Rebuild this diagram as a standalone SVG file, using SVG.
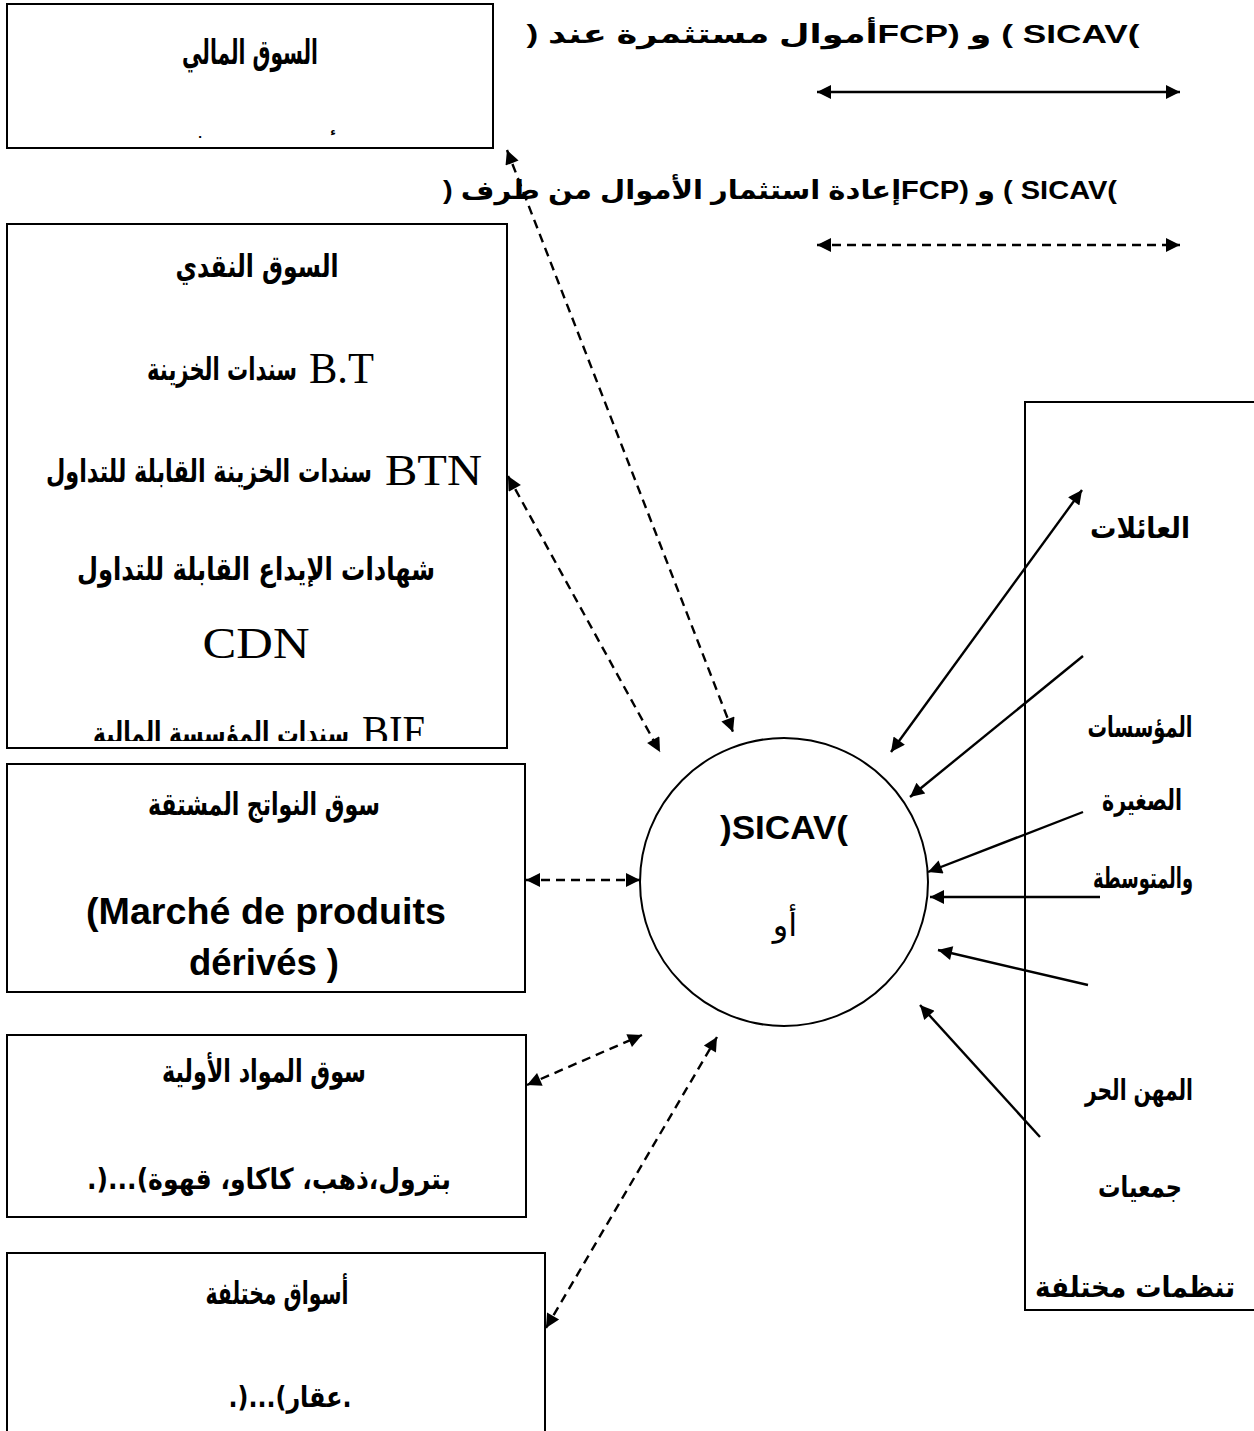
<svg xmlns="http://www.w3.org/2000/svg" width="1254" height="1431" viewBox="0 0 1254 1431">
  <style>
    .box { fill: #fff; stroke: #000; stroke-width: 2; }
    .ar { font-family: 'DejaVu Sans', sans-serif; font-weight: bold; fill: #000; }
    .arn { font-family: 'DejaVu Sans', sans-serif; font-weight: normal; fill: #000; }
    .lat { font-family: 'Liberation Sans', 'DejaVu Sans', sans-serif; font-weight: bold; fill: #000; }
    .ser { font-family: 'Liberation Serif', serif; font-weight: normal; fill: #000; }
    .solid { stroke: #000; stroke-width: 2.4; fill: none; }
    .dash { stroke: #000; stroke-width: 2.4; fill: none; stroke-dasharray: 9 6; }
  </style>
  <defs>
    <marker id="head" viewBox="0 0 10 10" refX="10" refY="5" markerWidth="17" markerHeight="14" markerUnits="userSpaceOnUse" orient="auto-start-reverse">
      <path d="M0,0 L10,5 L0,10 z" fill="#000"/>
    </marker>
    <clipPath id="clip-money">
      <rect x="7" y="680" width="500" height="61"/>
    </clipPath>
  </defs>

  <rect x="0" y="0" width="1254" height="1431" fill="#fff"/>

  <!-- legend: line styles for the two kinds of flows -->
  <g id="legend">
    <text class="lat" x="833" y="43" font-size="26" text-anchor="middle" direction="rtl" textLength="613" lengthAdjust="spacingAndGlyphs">)SICAV ) و (FCPأموال مستثمرة عند (</text>
    <line class="solid" x1="817" y1="92" x2="1180" y2="92" marker-start="url(#head)" marker-end="url(#head)"/>
    <text class="lat" x="780" y="199" font-size="26" text-anchor="middle" direction="rtl" textLength="674" lengthAdjust="spacingAndGlyphs">)SICAV ) و (FCPإعادة استثمار الأموال من طرف (</text>
    <line class="dash" x1="817" y1="245" x2="1180" y2="245" marker-start="url(#head)" marker-end="url(#head)"/>
  </g>

  <!-- financial market -->
  <g id="financial-market">
    <rect class="box" x="7" y="4" width="486" height="144"/>
    <text class="ar" x="250" y="64" font-size="34" text-anchor="middle" direction="rtl" textLength="136" lengthAdjust="spacingAndGlyphs">السوق المالي</text>
    <text class="ar" x="333" y="135" font-size="11" text-anchor="middle">ء</text>
    <text class="ar" x="200" y="138" font-size="11" text-anchor="middle">.</text>
  </g>

  <!-- money market -->
  <g id="money-market">
    <rect class="box" x="7" y="224" width="500" height="524"/>
    <text class="ar" x="257" y="277" font-size="31" text-anchor="middle" direction="rtl" textLength="163" lengthAdjust="spacingAndGlyphs">السوق النقدي</text>
    <text class="ar" x="222" y="380" font-size="31" text-anchor="middle" direction="rtl" textLength="150" lengthAdjust="spacingAndGlyphs">سندات الخزينة</text>
    <text class="ser" x="309" y="383" font-size="44" textLength="65" lengthAdjust="spacingAndGlyphs">B.T</text>
    <text class="ar" x="209" y="482" font-size="31" text-anchor="middle" direction="rtl" textLength="326" lengthAdjust="spacingAndGlyphs">سندات الخزينة القابلة للتداول</text>
    <text class="ser" x="385" y="485" font-size="44" textLength="97" lengthAdjust="spacingAndGlyphs">BTN</text>
    <text class="ar" x="256" y="580" font-size="31" text-anchor="middle" direction="rtl" textLength="358" lengthAdjust="spacingAndGlyphs">شهادات الإيداع القابلة للتداول</text>
    <text class="ser" x="256" y="658" font-size="44" text-anchor="middle" textLength="107" lengthAdjust="spacingAndGlyphs">CDN</text>
    <g clip-path="url(#clip-money)">
      <text class="ar" x="221" y="744" font-size="31" text-anchor="middle" direction="rtl" textLength="256" lengthAdjust="spacingAndGlyphs">سندات المؤسسة المالية</text>
      <text class="ser" x="362" y="746" font-size="44" textLength="63" lengthAdjust="spacingAndGlyphs">BIF</text>
    </g>
  </g>

  <!-- derivatives market -->
  <g id="derivatives-market">
    <rect class="box" x="7" y="764" width="518" height="228"/>
    <text class="ar" x="264" y="815" font-size="31" text-anchor="middle" direction="rtl" textLength="232" lengthAdjust="spacingAndGlyphs">سوق النواتج المشتقة</text>
    <text class="lat" x="266" y="924" font-size="36" text-anchor="middle" textLength="360" lengthAdjust="spacingAndGlyphs">(Marché de produits</text>
    <text class="lat" x="264" y="975" font-size="36" text-anchor="middle" textLength="150" lengthAdjust="spacingAndGlyphs">dérivés )</text>
  </g>

  <!-- commodities market -->
  <g id="commodities-market">
    <rect class="box" x="7" y="1035" width="519" height="182"/>
    <text class="ar" x="264" y="1082" font-size="31" text-anchor="middle" direction="rtl" textLength="204" lengthAdjust="spacingAndGlyphs">سوق المواد الأولية</text>
    <text class="ar" x="269" y="1189" font-size="29" text-anchor="middle" textLength="364" lengthAdjust="spacingAndGlyphs">.)...(بترول،ذهب، كاكاو، قهوة</text>
  </g>

  <!-- other markets -->
  <g id="other-markets">
    <rect class="box" x="7" y="1253" width="538" height="200"/>
    <text class="ar" x="277" y="1304" font-size="31" text-anchor="middle" direction="rtl" textLength="143" lengthAdjust="spacingAndGlyphs">أسواق مختلفة</text>
    <text class="ar" x="290" y="1407" font-size="29" text-anchor="middle" textLength="123" lengthAdjust="spacingAndGlyphs">.)...(عقار.</text>
  </g>

  <!-- investment fund -->
  <g id="fund">
    <circle cx="784" cy="882" r="144" fill="#fff" stroke="#000" stroke-width="2"/>
    <text class="lat" x="784" y="839" font-size="33" text-anchor="middle" textLength="128" lengthAdjust="spacingAndGlyphs">)SICAV(</text>
    <text class="arn" x="785" y="936" font-size="32" text-anchor="middle" direction="rtl">أو</text>
  </g>

  <!-- savers -->
  <g id="investors">
    <rect class="box" x="1025" y="402" width="240" height="908"/>
    <text class="ar" x="1140" y="538" font-size="29" text-anchor="middle" direction="rtl" textLength="100" lengthAdjust="spacingAndGlyphs">العائلات</text>
    <text class="ar" x="1140" y="737" font-size="29" text-anchor="middle" direction="rtl" textLength="105" lengthAdjust="spacingAndGlyphs">المؤسسات</text>
    <text class="ar" x="1142" y="810" font-size="29" text-anchor="middle" direction="rtl" textLength="80" lengthAdjust="spacingAndGlyphs">الصغيرة</text>
    <text class="ar" x="1143" y="888" font-size="29" text-anchor="middle" direction="rtl" textLength="100" lengthAdjust="spacingAndGlyphs">والمتوسطة</text>
    <text class="ar" x="1139" y="1100" font-size="29" text-anchor="middle" direction="rtl" textLength="108" lengthAdjust="spacingAndGlyphs">المهن الحر</text>
    <text class="ar" x="1140" y="1197" font-size="29" text-anchor="middle" direction="rtl" textLength="84" lengthAdjust="spacingAndGlyphs">جمعيات</text>
    <text class="ar" x="1135" y="1297" font-size="29" text-anchor="middle" direction="rtl" textLength="200" lengthAdjust="spacingAndGlyphs">تنظمات مختلفة</text>
  </g>

  <!-- flows -->
  <g id="connectors">
    <line class="dash" x1="507" y1="150" x2="733" y2="732" marker-start="url(#head)" marker-end="url(#head)"/>
    <line class="dash" x1="508" y1="476" x2="660" y2="752" marker-start="url(#head)" marker-end="url(#head)"/>
    <line class="dash" x1="526" y1="880" x2="640" y2="880" marker-start="url(#head)" marker-end="url(#head)"/>
    <line class="dash" x1="527" y1="1085" x2="642" y2="1035" marker-start="url(#head)" marker-end="url(#head)"/>
    <line class="dash" x1="546" y1="1328" x2="717" y2="1037" marker-start="url(#head)" marker-end="url(#head)"/>

    <line class="solid" x1="1082" y1="490" x2="891" y2="752" marker-start="url(#head)" marker-end="url(#head)"/>
    <line class="solid" x1="1083" y1="656" x2="910" y2="797" marker-end="url(#head)"/>
    <line class="solid" x1="1083" y1="812" x2="928" y2="872" marker-end="url(#head)"/>
    <line class="solid" x1="1100" y1="897" x2="930" y2="897" marker-end="url(#head)"/>
    <line class="solid" x1="1088" y1="985" x2="938" y2="950" marker-end="url(#head)"/>
    <line class="solid" x1="1040" y1="1137" x2="920" y2="1005" marker-end="url(#head)"/>
  </g>
</svg>
